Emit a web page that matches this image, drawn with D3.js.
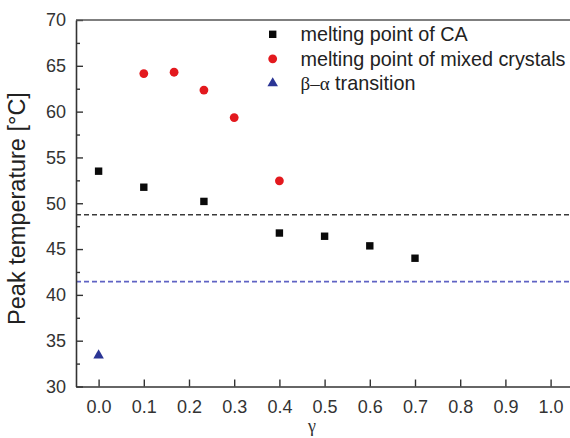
<!DOCTYPE html>
<html>
<head>
<meta charset="utf-8">
<script src="https://cdn.jsdelivr.net/npm/d3@7"></script>
<style>
html,body{margin:0;padding:0;background:#fff;}
svg{display:block;}
</style>
</head>
<body>
<svg id="chart" width="570" height="438"></svg>
<script>
// Data
const caX = [0.0, 0.1, 0.233, 0.4, 0.5, 0.6, 0.7];
const caY = [53.5, 51.75, 50.2, 46.75, 46.4, 45.35, 44.0];
const mixX = [0.1, 0.167, 0.233, 0.3, 0.4];
const mixY = [64.15, 64.3, 62.35, 59.35, 52.45];
const baX = [0.0];
const baY = [33.4];
const caLine = 48.75;
const baLine = 41.45;
const xTicks = [0.0, 0.1, 0.2, 0.3, 0.4, 0.5, 0.6, 0.7, 0.8, 0.9, 1.0];
const yTicks = [30, 35, 40, 45, 50, 55, 60, 65, 70];
const yMinor = [32.5, 37.5, 42.5, 47.5, 52.5, 57.5, 62.5, 67.5];
const legendLabels = [["", "melting point of CA"], ["", "melting point of mixed crystals"], ["\u03B2\u2013\u03B1", " transition"]];

const svg = d3.select("#chart");
const L = 76, T = 20, B = 386.5;
const x = d3.scaleLinear().domain([-0.05, 1.05]).range([L, L + 1.1 * 452]);
const y = d3.scaleLinear().domain([30, 70]).range([B, T]);
const font = "'Liberation Sans', Arial, sans-serif";
const serif = "'Liberation Serif', 'DejaVu Serif', serif";
const axisColor = "#333";

// dashed reference lines
svg.append("line").attr("x1", x(-0.05)).attr("x2", 570)
  .attr("y1", y(caLine)).attr("y2", y(caLine))
  .attr("stroke", "#3a3a3a").attr("stroke-width", 1.6).attr("stroke-dasharray", "5,3");
svg.append("line").attr("x1", x(-0.05)).attr("x2", 570)
  .attr("y1", y(baLine)).attr("y2", y(baLine))
  .attr("stroke", "#5f63c4").attr("stroke-width", 1.6).attr("stroke-dasharray", "5,3");

// x axis
const xAxis = svg.append("g").attr("transform", `translate(0,${B})`)
  .call(d3.axisBottom(x).tickValues(xTicks).tickSizeInner(-7).tickSizeOuter(0).tickPadding(14).tickFormat(d3.format(".1f")));
xAxis.select(".domain").attr("stroke", axisColor).attr("stroke-width", 1.6);
xAxis.selectAll(".tick line").attr("stroke", axisColor).attr("stroke-width", 1.4);
xAxis.selectAll(".tick text").attr("font-family", font).attr("font-size", "18px").attr("fill", "#333");

// y axis
const yAxis = svg.append("g").attr("transform", `translate(${L},0)`)
  .call(d3.axisLeft(y).tickValues(yTicks).tickSizeInner(-7).tickSizeOuter(0).tickPadding(10));
yAxis.select(".domain").attr("stroke", axisColor).attr("stroke-width", 1.6);
yAxis.selectAll(".tick line").attr("stroke", axisColor).attr("stroke-width", 1.4);
yAxis.selectAll(".tick text").attr("font-family", font).attr("font-size", "18px").attr("fill", "#333");
const yAxisMinor = svg.append("g").attr("transform", `translate(${L},0)`)
  .call(d3.axisLeft(y).tickValues(yMinor).tickSizeInner(-4).tickSizeOuter(0).tickFormat(""));
yAxisMinor.select(".domain").remove();
yAxisMinor.selectAll(".tick line").attr("stroke", axisColor).attr("stroke-width", 1.4);

// top frame line
svg.append("line").attr("x1", L).attr("x2", 570).attr("y1", y(70)).attr("y2", y(70))
  .attr("stroke", "#555").attr("stroke-width", 1.6);

// axis labels
svg.append("text").attr("transform", `translate(25,${208.5}) rotate(-90)`)
  .attr("text-anchor", "middle").attr("font-family", font).attr("font-size", "23.5px").attr("fill", "#222")
  .text("Peak temperature [\u00B0C]");
svg.append("text").attr("x", 312).attr("y", 432).attr("text-anchor", "middle")
  .attr("font-family", serif).attr("font-size", "18px").attr("fill", "#333")
  .text("\u03B3");

// markers
const sq = 7.4;
svg.append("g").selectAll("rect").data(caX.map((d, i) => [d, caY[i]])).join("rect")
  .attr("x", d => x(d[0]) - sq / 2).attr("y", d => y(d[1]) - sq / 2)
  .attr("width", sq).attr("height", sq).attr("fill", "#0a0a0a");
svg.append("g").selectAll("circle").data(mixX.map((d, i) => [d, mixY[i]])).join("circle")
  .attr("cx", d => x(d[0])).attr("cy", d => y(d[1])).attr("r", 4.4).attr("fill", "#e3191e");
const tri = d3.symbol().type(d3.symbolTriangle).size(48);
svg.append("g").selectAll("path").data(baX.map((d, i) => [d, baY[i]])).join("path")
  .attr("transform", d => `translate(${x(d[0])},${y(d[1])})`)
  .attr("d", tri).attr("fill", "#2b3595");

// legend
const lgX = 272.7, lgY = [34.3, 58.8, 83.3];
svg.append("rect").attr("x", lgX - sq / 2).attr("y", lgY[0] - sq / 2).attr("width", sq).attr("height", sq).attr("fill", "#0a0a0a");
svg.append("circle").attr("cx", lgX).attr("cy", lgY[1]).attr("r", 4.4).attr("fill", "#e3191e");
svg.append("path").attr("transform", `translate(${lgX},${lgY[2]})`).attr("d", tri).attr("fill", "#2b3595");
const lt = svg.append("g").selectAll("text").data(legendLabels).join("text")
  .attr("x", 300.5).attr("y", (d, i) => lgY[i] + 7)
  .attr("font-family", font).attr("font-size", "19.8px").attr("fill", "#222");
lt.append("tspan").attr("font-family", serif).attr("font-size", "19px").text(d => d[0]);
lt.append("tspan").text(d => d[1]);
</script>
</body>
</html>
